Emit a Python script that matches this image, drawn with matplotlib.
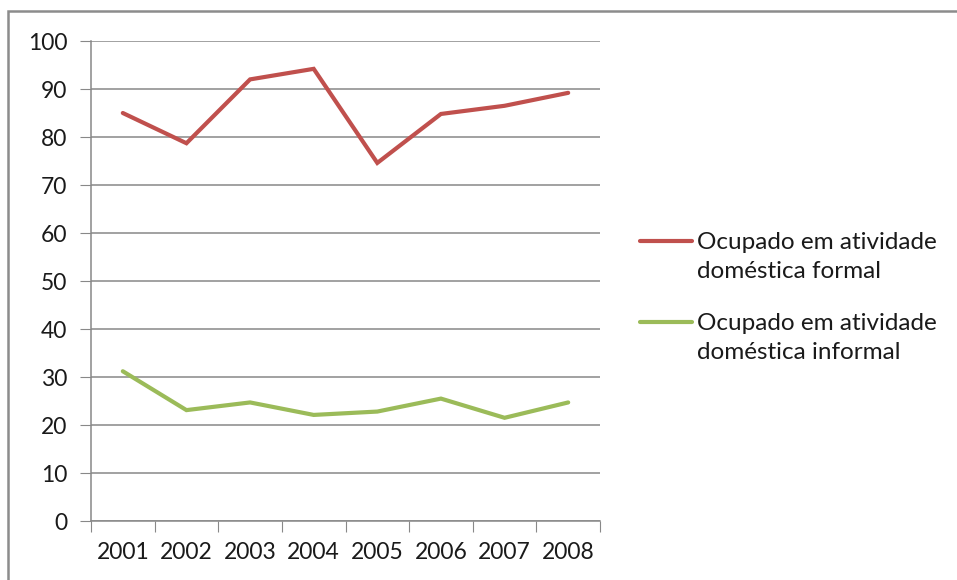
import matplotlib.pyplot as plt
from matplotlib.lines import Line2D
from matplotlib.patches import Rectangle

anos = ["2001", "2002", "2003", "2004", "2005", "2006", "2007", "2008"]
formal = [85.0, 78.7, 92.0, 94.2, 74.6, 84.8, 86.5, 89.2]
informal = [31.2, 23.1, 24.7, 22.1, 22.8, 25.5, 21.5, 24.7]
nomes = ["Ocupado em atividade\ndoméstica formal",
         "Ocupado em atividade\ndoméstica informal"]
cores = ["#C0504D", "#9BBB59"]

plt.rcParams["font.family"] = ["Lato", "DejaVu Sans"]

fig = plt.figure(figsize=(9.57, 5.8), dpi=100)
ax = fig.add_axes([91/957, 1-521/580, (600-91)/957, (521-41)/580])

x = list(range(len(anos)))
ax.plot(x, formal, color=cores[0], lw=3, solid_capstyle="round", solid_joinstyle="miter")
ax.plot(x, informal, color=cores[1], lw=3, solid_capstyle="round", solid_joinstyle="miter")

ax.set_xlim(-0.5, len(anos) - 0.5)
ax.set_ylim(0, 100)
ax.set_yticks(range(0, 101, 10))
ax.set_xticks([i - 0.5 for i in range(len(anos) + 1)])
ax.set_xticklabels([])
ax.set_xticks(x, minor=True)
ax.set_xticklabels(anos, minor=True)
ax.tick_params(axis="x", which="minor", length=0, pad=15, labelsize=16.5, colors="#1a1a1a")
ax.tick_params(axis="x", which="major", length=8, color="#888888")
ax.tick_params(axis="y", length=8, color="#888888", labelsize=16.5, labelcolor="#1a1a1a", pad=9)
ax.grid(axis="y", color="#888888", lw=1.1)
ax.set_axisbelow(True)
for s in ["top", "right"]:
    ax.spines[s].set_visible(False)
for s in ["left", "bottom"]:
    ax.spines[s].set_color("#888888")
    ax.spines[s].set_linewidth(1.1)

# legenda
for i, (nome, cor) in enumerate(zip(nomes, cores)):
    yl = 241 + i * 81
    fig.add_artist(Line2D([640/957, 692/957], [1-yl/580, 1-yl/580], color=cor, lw=3,
                          solid_capstyle="round", transform=fig.transFigure))
    fig.text(697/957, 1-(yl-9)/580, nome, fontsize=17.5, va="top", ha="left",
             color="#1a1a1a", linespacing=1.45)

# moldura
fig.add_artist(Rectangle((8/957, -0.1), 1.2, 1 - 11/580 + 0.1, transform=fig.transFigure,
                         fill=False, edgecolor="#8c8c8c", lw=1.8))

fig.savefig("out.png", dpi=100)
